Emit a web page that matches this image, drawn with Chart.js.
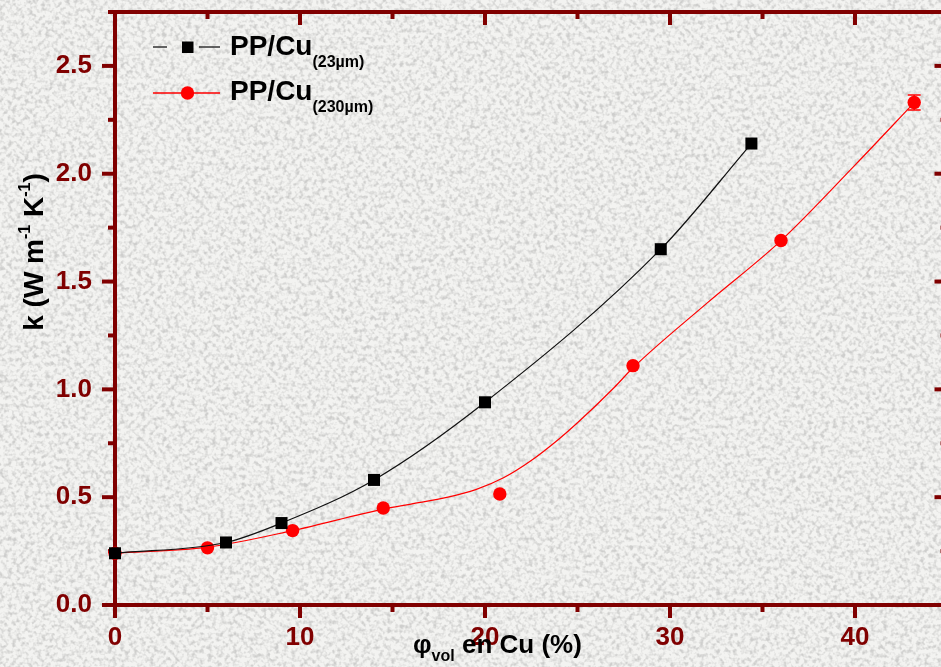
<!DOCTYPE html>
<html>
<head>
<meta charset="utf-8">
<script src="https://cdn.jsdelivr.net/npm/chart.js@4.4.1/dist/chart.umd.min.js"></script>
<style>
  html, body { margin: 0; padding: 0; overflow: hidden; background: #ebebe9; }
  #wrap { position: relative; width: 960px; height: 667px; }
  #grain, #plot { position: absolute; left: 0; top: 0; }
</style>
</head>
<body>
<div id="wrap">
  <svg id="grain" width="960" height="667">
    <filter id="noise" x="0" y="0" width="100%" height="100%">
      <feTurbulence type="fractalNoise" baseFrequency="0.24" numOctaves="2" seed="7"/>
      <feColorMatrix type="matrix" values="0 0 0 0 0.62  0 0 0 0 0.62  0 0 0 0 0.61  3 0 0 0 -1.3"/>
    </filter>
    <rect width="100%" height="100%" fill="#f3f3f1"/>
    <rect width="100%" height="100%" filter="url(#noise)"/>
  </svg>
  <canvas id="plot" width="960" height="667"></canvas>
</div>
<script>
// PP/Cu 23 µm : volume fraction (%) vs conductivity
const phi23 = [0, 6, 9, 14, 20, 29.5, 34.4];
const k23 = [0.24, 0.29, 0.38, 0.58, 0.94, 1.65, 2.14];

// PP/Cu 230 µm : measured points + error
const phi230 = [0, 5, 9.6, 14.5, 20.8, 28, 36, 43.2];
const k230 = [0.24, 0.265, 0.345, 0.45, 0.515, 1.11, 1.69, 2.33];
const err230 = [0, 0, 0, 0, 0, 0, 0, 0.035];

// fitted curve for the 230 µm series
const fitPhi230 = [0, 5, 9.6, 14.5, 16, 18, 19.5, 21, 22.5, 24, 25, 27, 28, 32, 36, 40, 43.2];
const fitK230 = [0.24, 0.268, 0.345, 0.445, 0.468, 0.5, 0.535, 0.59, 0.67, 0.77, 0.845, 1.01, 1.10, 1.40, 1.69, 2.04, 2.33];

const xTicks = [0, 10, 20, 30, 40];
const yTicks = [0, 0.5, 1, 1.5, 2, 2.5];

const AXIS = '#800000';
const FAMILY = '"Liberation Sans", Arial, sans-serif';
const font = (size) => `bold ${size}px ${FAMILY}`;

const pts = (xs, ys) => xs.map((x, i) => ({ x, y: ys[i] }));

// draws text pieces one after another (for sub/superscripts)
function drawRuns(ctx, runs, x, y, align) {
    let w = 0;
    runs.forEach(r => { ctx.font = font(r.s); r.w = ctx.measureText(r.t).width; w += r.w; });
    let cx = align === 'center' ? x - w / 2 : x;
    runs.forEach(r => {
        ctx.font = font(r.s);
        ctx.fillText(r.t, cx, y + (r.dy || 0));
        cx += r.w;
    });
}

// box frame: ticks out on left/bottom, in on top/right
const frame = {
    id: 'frame',
    beforeDatasetsDraw(chart) {
        const { ctx, chartArea: a, scales: { x, y } } = chart;
        ctx.save();
        ctx.strokeStyle = AXIS;
        ctx.lineWidth = 4;
        ctx.strokeRect(a.left, a.top, a.right - a.left, a.bottom - a.top);

        const seg = (x1, y1, x2, y2) => { ctx.beginPath(); ctx.moveTo(x1, y1); ctx.lineTo(x2, y2); ctx.stroke(); };
        const xMajor = xTicks, xMinor = xTicks.map(v => v + 5);
        const yMajor = yTicks, yMinor = yTicks.map(v => v + 0.25);

        xMajor.forEach(v => {
            const p = x.getPixelForValue(v);
            seg(p, a.bottom, p, a.bottom + 13);
            seg(p, a.top, p, a.top + 13);
        });
        xMinor.forEach(v => {
            const p = x.getPixelForValue(v);
            seg(p, a.bottom, p, a.bottom + 7);
            seg(p, a.top, p, a.top + 7);
        });
        yMajor.forEach(v => {
            const p = y.getPixelForValue(v);
            seg(a.left - 13, p, a.left, p);
            seg(a.right - 13, p, a.right, p);
        });
        yMinor.forEach(v => {
            const p = y.getPixelForValue(v);
            seg(a.left - 7, p, a.left, p);
            seg(a.right - 7, p, a.right, p);
        });
        ctx.restore();
    },
    afterDatasetsDraw(chart) {
        // error bars of the 230 µm points
        const { ctx, scales: { x, y } } = chart;
        ctx.save();
        ctx.strokeStyle = '#ff0000';
        ctx.lineWidth = 1.5;
        phi230.forEach((v, i) => {
            if (!err230[i]) return;
            const px = x.getPixelForValue(v);
            const top = y.getPixelForValue(k230[i] + err230[i]);
            const bot = y.getPixelForValue(k230[i] - err230[i]);
            ctx.beginPath();
            ctx.moveTo(px, top); ctx.lineTo(px, bot);
            ctx.moveTo(px - 6.5, top); ctx.lineTo(px + 6.5, top);
            ctx.moveTo(px - 6.5, bot); ctx.lineTo(px + 6.5, bot);
            ctx.stroke();
        });
        ctx.restore();
    },
    afterDraw(chart) {
        const { ctx } = chart;
        ctx.save();
        ctx.fillStyle = '#000';
        ctx.textBaseline = 'alphabetic';

        // axis titles
        drawRuns(ctx, [
            { t: 'φ', s: 26 },
            { t: 'vol', s: 16, dy: 8 },
            { t: ' en Cu (%)', s: 26 },
        ], 413, 653, 'left');

        ctx.save();
        ctx.translate(43, 252);
        ctx.rotate(-Math.PI / 2);
        drawRuns(ctx, [
            { t: 'k (W m', s: 28 },
            { t: '-1', s: 16, dy: -13 },
            { t: ' K', s: 28 },
            { t: '-1', s: 16, dy: -13 },
            { t: ')', s: 28 },
        ], 0, 0, 'center');
        ctx.restore();

        // legend
        ctx.lineWidth = 1.3;
        ctx.strokeStyle = '#333';
        ctx.beginPath();
        ctx.moveTo(153, 47); ctx.lineTo(167, 47);
        ctx.moveTo(199, 47); ctx.lineTo(220, 47);
        ctx.stroke();
        ctx.fillRect(182, 41.5, 11.5, 11.5);

        ctx.strokeStyle = '#ff0000';
        ctx.beginPath();
        ctx.moveTo(153, 93); ctx.lineTo(220, 93);
        ctx.stroke();
        ctx.fillStyle = '#ff0000';
        ctx.beginPath();
        ctx.arc(187.5, 93, 6.7, 0, Math.PI * 2);
        ctx.fill();

        ctx.fillStyle = '#000';
        drawRuns(ctx, [{ t: 'PP/Cu', s: 28 }, { t: '(23µm)', s: 16, dy: 12 }], 230, 55, 'left');
        drawRuns(ctx, [{ t: 'PP/Cu', s: 28 }, { t: '(230µm)', s: 16, dy: 12 }], 230, 100, 'left');
        ctx.restore();
    }
};

new Chart(document.getElementById('plot'), {
    type: 'scatter',
    data: {
        datasets: [
            {
                label: 'PP/Cu (23µm)',
                data: pts(phi23, k23),
                showLine: true,
                cubicInterpolationMode: 'monotone',
                borderColor: '#111',
                borderWidth: 1.2,
                pointStyle: 'rect',
                pointRadius: 8.5,
                pointBackgroundColor: '#000',
                pointBorderWidth: 0,
                clip: false,
            },
            {
                label: 'fit 230µm',
                data: pts(fitPhi230, fitK230),
                showLine: true,
                cubicInterpolationMode: 'monotone',
                borderColor: '#ff0000',
                borderWidth: 1.2,
                pointRadius: 0,
                clip: false,
            },
            {
                label: 'PP/Cu (230µm)',
                data: pts(phi230, k230),
                showLine: false,
                pointStyle: 'circle',
                pointRadius: 6.7,
                pointBackgroundColor: '#ff0000',
                pointBorderWidth: 0,
                clip: false,
            },
        ],
    },
    options: {
        responsive: false,
        animation: false,
        devicePixelRatio: 1,
        layout: { padding: { top: 12, right: 12.5, left: 0, bottom: 0 } },
        plugins: { legend: { display: false }, tooltip: { enabled: false } },
        scales: {
            x: {
                type: 'linear',
                min: 0,
                max: 45,
                afterBuildTicks: s => { s.ticks = xTicks.map(v => ({ value: v })); },
                afterFit: s => { s.height = 62; s.paddingLeft = 0; s.paddingRight = 0; },
                grid: { display: false, drawTicks: false },
                border: { display: false },
                ticks: { color: AXIS, font: { family: FAMILY, size: 26, weight: 'bold' }, padding: 17, maxRotation: 0, autoSkip: false },
            },
            y: {
                type: 'linear',
                min: 0,
                max: 2.75,
                afterBuildTicks: s => { s.ticks = yTicks.map(v => ({ value: v })); },
                afterFit: s => { s.width = 115; s.paddingTop = 0; s.paddingBottom = 0; },
                grid: { display: false, drawTicks: false },
                border: { display: false },
                ticks: {
                    color: AXIS,
                    font: { family: FAMILY, size: 26, weight: 'bold' },
                    padding: 23,
                    autoSkip: false,
                    callback: v => v.toFixed(1),
                },
            },
        },
    },
    plugins: [frame],
});
</script>
</body>
</html>
